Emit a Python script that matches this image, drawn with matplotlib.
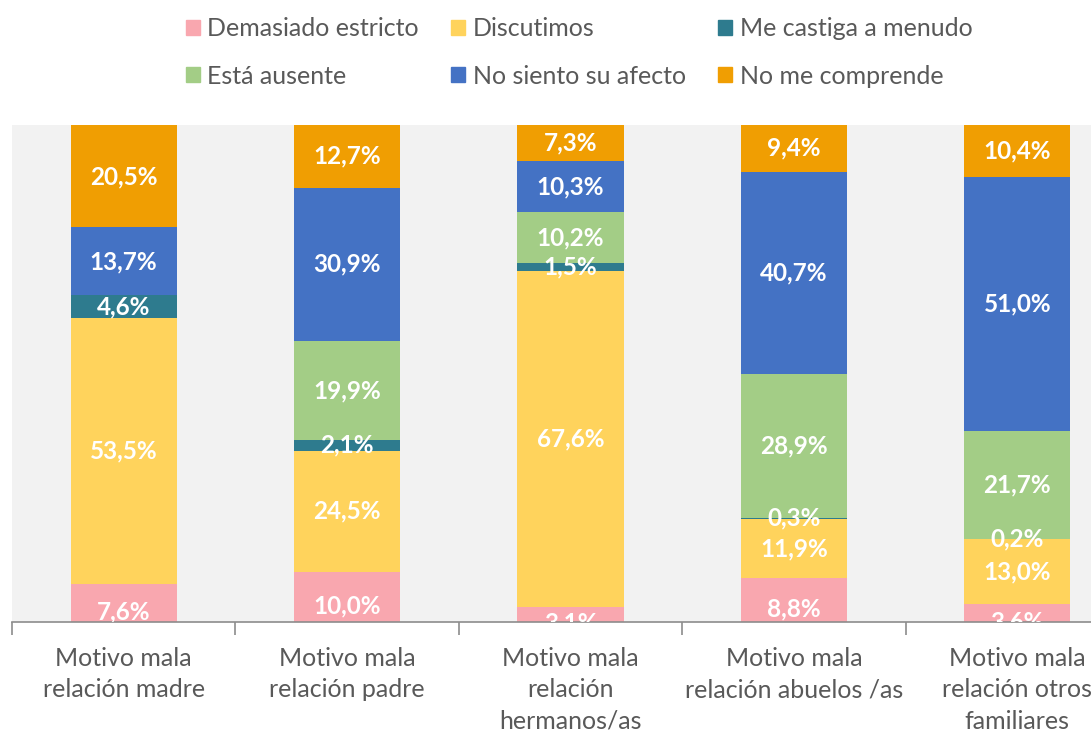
import numpy as np
import matplotlib
matplotlib.use("Agg")
import matplotlib.pyplot as plt
from matplotlib.patches import Patch

plt.rcParams['font.family'] = ['Lato', 'DejaVu Sans']

# Data
categories = ["Motivo mala\nrelación madre", "Motivo mala\nrelación padre",
              "Motivo mala\nrelación\nhermanos/as", "Motivo mala\nrelación abuelos /as",
              "Motivo mala\nrelación otros\nfamiliares"]
series = ["Demasiado estricto", "Discutimos", "Me castiga a menudo",
          "Está ausente", "No siento su afecto", "No me comprende"]
demasiado = [7.6, 10.0, 3.1, 8.8, 3.6]
discutimos = [53.5, 24.5, 67.6, 11.9, 13.0]
castiga = [4.6, 2.1, 1.5, 0.3, 0.2]
ausente = [0.0, 19.9, 10.2, 28.9, 21.7]
afecto = [13.7, 30.9, 10.3, 40.7, 51.0]
comprende = [20.5, 12.7, 7.3, 9.4, 10.4]
colors = ["#F9A7AF", "#FFD35C", "#2E7B8E", "#A3CD86", "#4472C4", "#F09E02"]

values = [demasiado, discutimos, castiga, ausente, afecto, comprende]

fig = plt.figure(figsize=(10.91, 7.31), dpi=100)
ax = fig.add_axes([12 / 1091, 1 - 622 / 731, 1117 / 1091, 497 / 731])
ax.set_facecolor("#F2F2F2")

x = np.arange(len(categories))
bottom = np.zeros(len(categories))
for i, (name, vals, col) in enumerate(zip(series, values, colors)):
    vals = np.array(vals)
    ax.bar(x, vals, 0.475, bottom=bottom, color=col, label=name)
    for xi, v, b in zip(x, vals, bottom):
        if v <= 0:
            continue
        y = b + v / 2
        if i == 0:
            y -= 1.8  # bottom labels sit a bit low in the original
        ax.text(xi, y, f"{v:.1f}%".replace(".", ","), ha="center", va="center",
                color="white", fontsize=17.5, fontweight="bold", clip_on=True)
    bottom += vals

ax.set_xlim(-0.5, len(categories) - 0.5)
ax.set_ylim(0, 100)
ax.set_yticks([])
for s in ["top", "left", "right"]:
    ax.spines[s].set_visible(False)
ax.spines["bottom"].set_color("#8C8C8C")
ax.spines["bottom"].set_linewidth(1.2)

ax.set_xticks(x)
ax.set_xticklabels(categories, fontsize=18, color="#595959", linespacing=1.44)
ax.tick_params(axis="x", which="major", length=0, pad=18)
ax.set_xticks(np.arange(-0.5, len(categories)), minor=True)
ax.tick_params(axis="x", which="minor", length=9, color="#8C8C8C", width=1.2)

# legend filled row-wise like the original
handles = [Patch(color=c) for c in colors]
order = [0, 3, 1, 4, 2, 5]
fig.legend([handles[k] for k in order], [series[k] for k in order],
           ncol=3, loc="upper left", bbox_to_anchor=(171 / 1091, 1 - 2 / 731),
           frameon=False, fontsize=18, labelcolor="#595959", borderpad=0.1,
           handlelength=0.55, handleheight=0.55, handletextpad=0.3,
           columnspacing=1.3, labelspacing=0.98)

fig.savefig("out.png", dpi=100)
